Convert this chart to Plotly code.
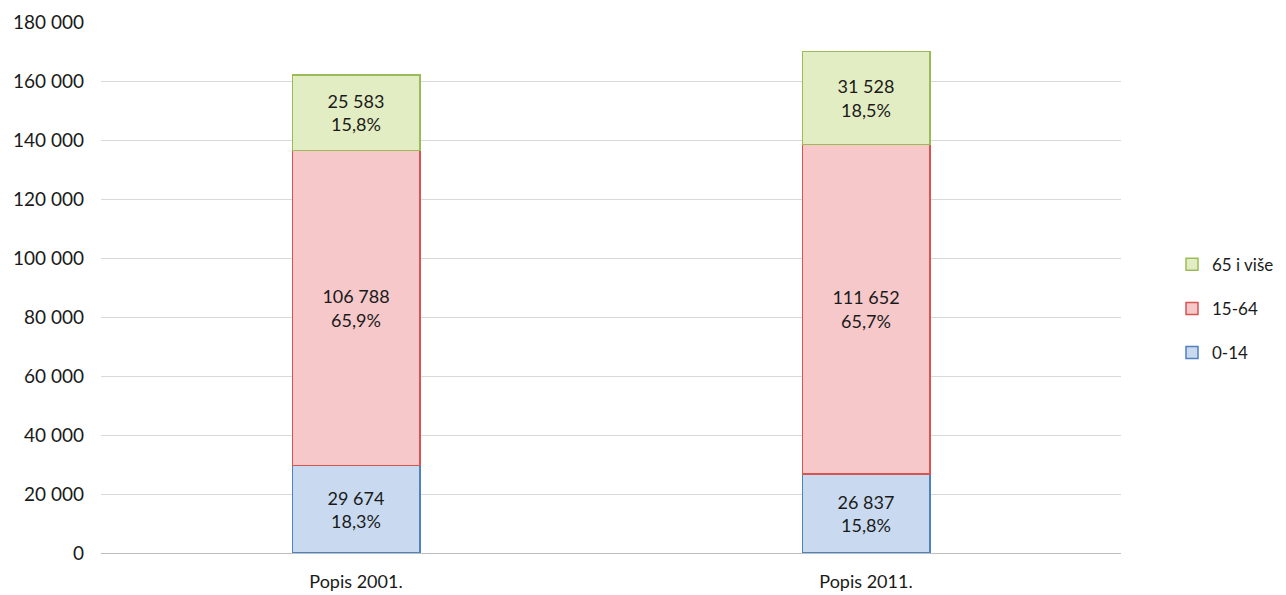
import plotly.graph_objects as go

categories = ["Popis 2001.", "Popis 2011."]
series_names = ["0-14", "15-64", "65 i više"]
values_0_14 = [29674, 26837]
values_15_64 = [106788, 111652]
values_65 = [25583, 31528]
pct_0_14 = ["18,3%", "15,8%"]
pct_15_64 = ["65,9%", "65,7%"]
pct_65 = ["15,8%", "18,5%"]
tick_vals = [0, 20000, 40000, 60000, 80000, 100000, 120000, 140000, 160000, 180000]

fills = ["#c9daf0", "#f6c8c9", "#e3edc3"]
lines = ["#4f81bd", "#d9534f", "#9bbb59"]

def fmt(v):
    return f"{v:,}".replace(",", " ")

fig = go.Figure()
for i, (name, vals, pcts) in enumerate(zip(series_names,
                                          [values_0_14, values_15_64, values_65],
                                          [pct_0_14, pct_15_64, pct_65])):
    fig.add_trace(go.Bar(
        x=categories, y=vals, name=name,
        marker=dict(color=fills[i], line=dict(color=lines[i], width=1.5)),
        text=[f"{fmt(v)}<br>{p}" for v, p in zip(vals, pcts)],
        textposition="inside", insidetextanchor="middle",
        textfont=dict(size=18, color="#1a1a1a"),
        legendgroup=name, legendrank=3 - i,
        width=0.25,
    ))

fig.update_layout(
    barmode="stack",
    separators=", ",
    width=1286, height=595,
    margin=dict(l=93, r=173, t=14, b=50, autoexpand=False),
    plot_bgcolor="white", paper_bgcolor="white",
    font=dict(family="Lato, Open Sans, sans-serif", size=18, color="#1a1a1a"),
    showlegend=True,
    legend=dict(x=1.05, y=0.46, xanchor="left", yanchor="middle",
                traceorder="grouped", tracegroupgap=19, itemwidth=30,
                font=dict(size=17)),
    xaxis=dict(showline=False, ticks="", tickfont=dict(size=18), automargin=False,
               ticklabelstandoff=16),
    yaxis=dict(range=[0, 180000], tickvals=tick_vals, tickformat=",.0f",
               showgrid=True, gridcolor="#d9d9d9", gridwidth=1,
               zeroline=True, zerolinecolor="#bfbfbf", zerolinewidth=1,
               ticklabelstandoff=16, tickfont=dict(size=19), automargin=False),
)

fig.write_html("out.html")
